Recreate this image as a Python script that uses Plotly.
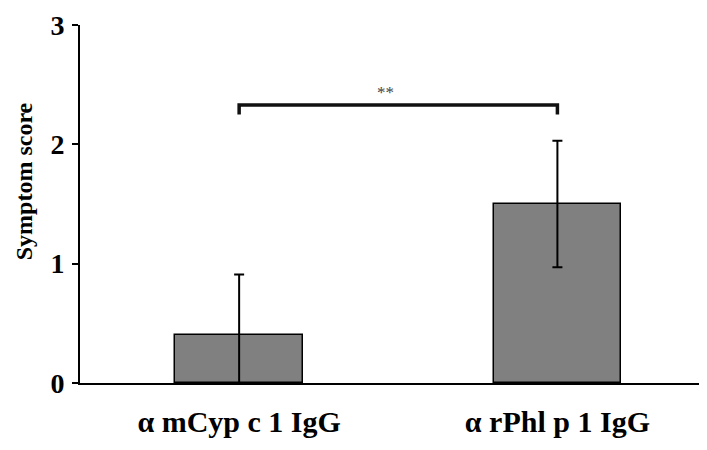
import plotly.graph_objects as go

categories = ["α mCyp c 1 IgG", "α rPhl p 1 IgG"]
scores = [0.40, 1.50]
errors = [0.51, 0.53]
y_ticks = [0, 1, 2, 3]
bracket_y = 2.33
bracket_drop = 0.08
sig_label = "**"
y_title = "Symptom score"

FONT = "Liberation Serif"

fig = go.Figure()
fig.add_trace(go.Bar(
    x=categories, y=scores, width=0.4,
    marker=dict(color="#808080", line=dict(color="#000000", width=1.5)),
    error_y=dict(type="data", array=errors, visible=True, color="#000000",
                 thickness=2, width=5),
    showlegend=False, hoverinfo="skip",
))
fig.add_trace(go.Scatter(
    x=[categories[0], categories[0], categories[1], categories[1]],
    y=[bracket_y - bracket_drop, bracket_y, bracket_y, bracket_y - bracket_drop],
    mode="lines", line=dict(color="#111111", width=3.5),
    showlegend=False, hoverinfo="skip",
))
fig.add_annotation(x=0.46, y=bracket_y, xref="x", yref="y", text=sig_label,
                   showarrow=False, yanchor="bottom", yshift=1,
                   font=dict(family=FONT, size=17, color="#444444"))
fig.add_annotation(x=-0.089, y=0.564, xref="paper", yref="paper", text=y_title,
                   showarrow=False, textangle=-90, xanchor="center", yanchor="middle",
                   font=dict(family=FONT, size=24, color="#000000", weight="bold"))

fig.update_layout(
    width=707, height=450,
    margin=dict(l=72, r=8, t=17, b=75, autoexpand=False),
    plot_bgcolor="white", paper_bgcolor="white",
    bargap=0,
    xaxis=dict(type="category", range=[-0.5, 1.47], showline=True,
               linecolor="#000000", linewidth=2, ticks="", showgrid=False,
               zeroline=False, automargin=False,
               tickfont=dict(family=FONT, size=30, color="#000000", weight="bold"),
               ticklabelstandoff=11),
    yaxis=dict(range=[0, 3], tickvals=y_ticks, showline=True,
               linecolor="#000000", linewidth=2, ticks="outside", ticklen=6,
               tickwidth=2, tickcolor="#000000", showgrid=False, zeroline=False,
               automargin=False,
               tickfont=dict(family=FONT, size=28, color="#000000", weight="bold"),
               ticklabelstandoff=2),
)
fig.write_html("out.html")
